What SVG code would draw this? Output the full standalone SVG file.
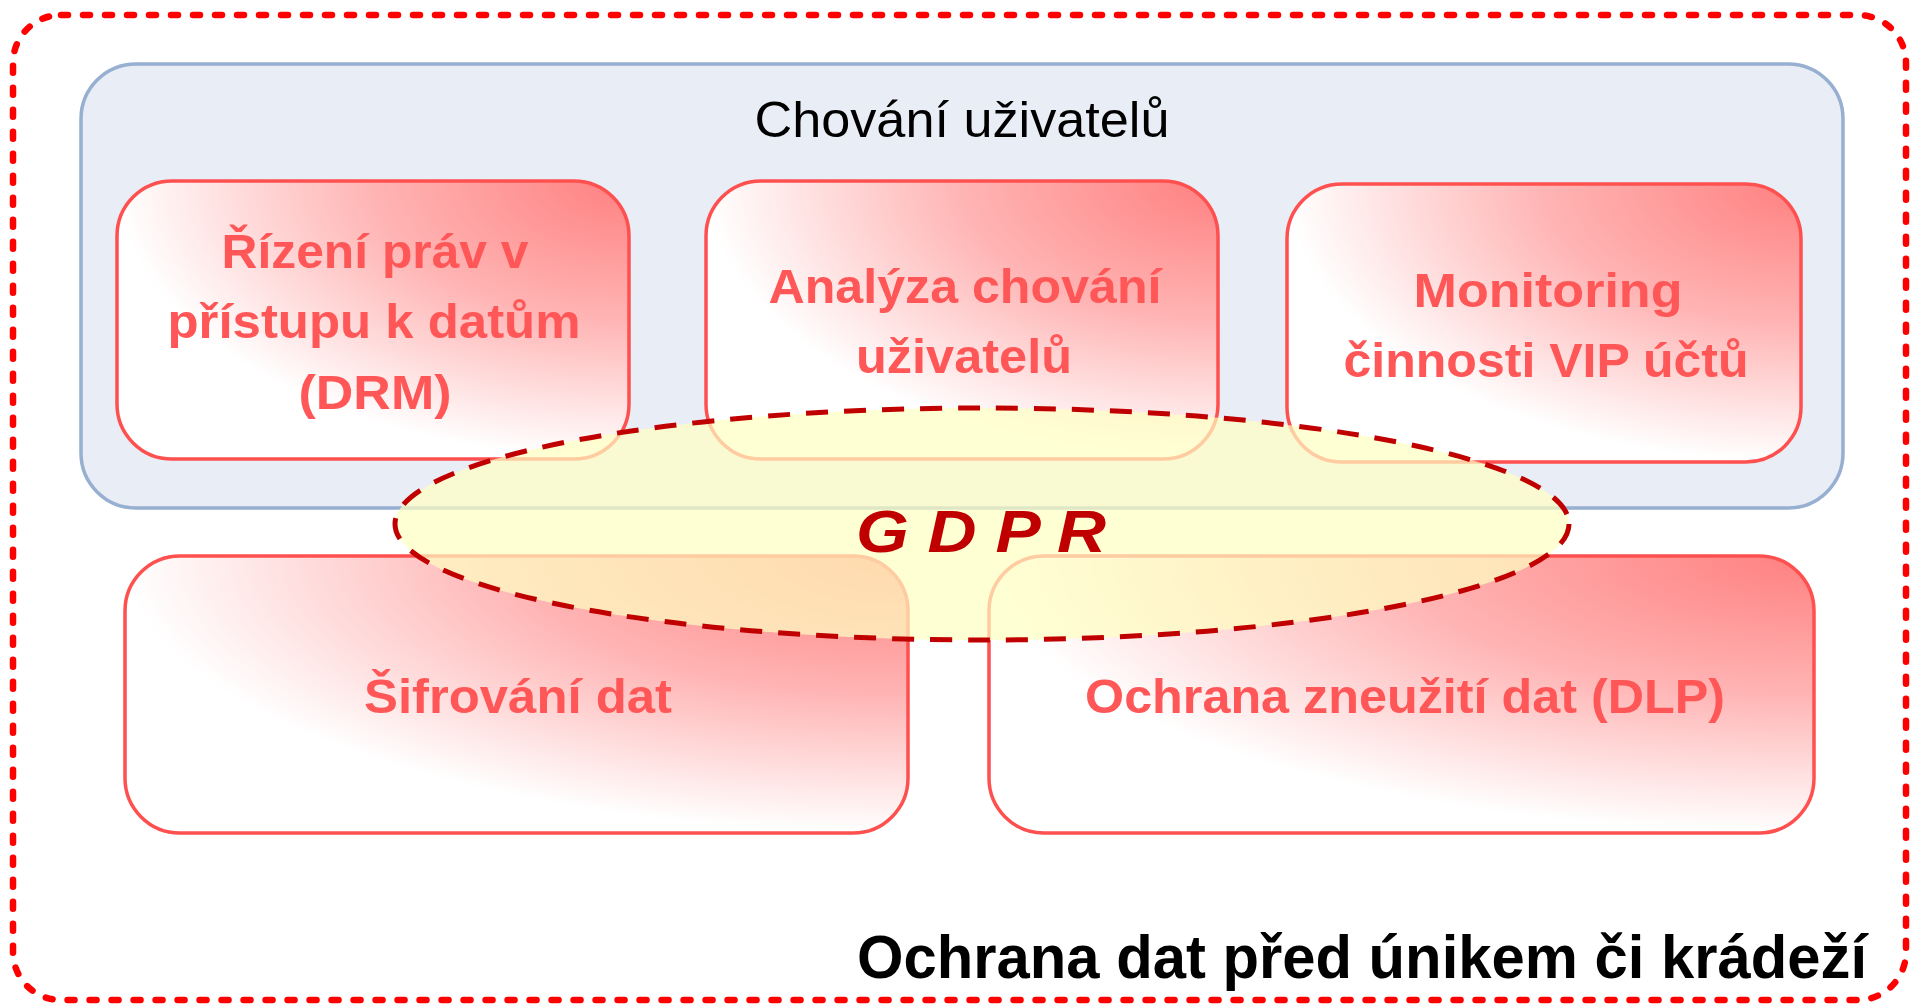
<svg xmlns="http://www.w3.org/2000/svg" width="1916" height="1004" viewBox="0 0 1916 1004">
<defs>
<radialGradient id="redfill" cx="1" cy="0" r="1" fx="1" fy="0">
<stop offset="0" stop-color="#FF8080"/>
<stop offset="0.5" stop-color="#FFB4B4"/>
<stop offset="1" stop-color="#FFFFFF"/>
</radialGradient>
<style>
.box{fill:url(#redfill);stroke:#FF5050;stroke-width:3.5}
.bt{font-family:"Liberation Sans",Arial,sans-serif;font-weight:bold;font-size:49px;fill:#FF5757;text-anchor:middle}
</style>
</defs>
<rect x="13" y="15" width="1893" height="985" rx="48" ry="48" fill="#FFFFFF" stroke="#FF0000" stroke-width="6.5" stroke-dasharray="7 15" stroke-linecap="round"/>
<g id="container">
<rect x="81" y="64" width="1762" height="444" rx="55" ry="55" fill="#E9EDF5" stroke="#97AFD0" stroke-width="3.5"/>
<text x="962" y="137" font-family="Liberation Sans,Arial,sans-serif" font-size="50" fill="#000" text-anchor="middle" textLength="415" lengthAdjust="spacingAndGlyphs">Chování uživatelů</text>
</g>
<g id="drm">
<rect class="box" x="117" y="181" width="512" height="278" rx="55" ry="55"/>
<text class="bt" x="375" y="268" textLength="307" lengthAdjust="spacingAndGlyphs">Řízení práv v</text>
<text class="bt" x="374" y="338" textLength="413" lengthAdjust="spacingAndGlyphs">přístupu k datům</text>
<text class="bt" x="375" y="409" textLength="153" lengthAdjust="spacingAndGlyphs">(DRM)</text>
</g>
<g id="analyza">
<rect class="box" x="706" y="181" width="512" height="278" rx="55" ry="55"/>
<text class="bt" x="965" y="303" textLength="393" lengthAdjust="spacingAndGlyphs">Analýza chování</text>
<text class="bt" x="964" y="373" textLength="216" lengthAdjust="spacingAndGlyphs">uživatelů</text>
</g>
<g id="monitoring">
<rect class="box" x="1287" y="184" width="514" height="278" rx="55" ry="55"/>
<text class="bt" x="1548" y="307" textLength="269" lengthAdjust="spacingAndGlyphs">Monitoring</text>
<text class="bt" x="1546" y="377" textLength="405" lengthAdjust="spacingAndGlyphs">činnosti VIP účtů</text>
</g>
<g id="sifrovani">
<rect class="box" x="125" y="556" width="783" height="277" rx="55" ry="55"/>
<text class="bt" x="518" y="713" textLength="308" lengthAdjust="spacingAndGlyphs">Šifrování dat</text>
</g>
<g id="dlp">
<rect class="box" x="989" y="556" width="825" height="277" rx="55" ry="55"/>
<text class="bt" x="1405" y="713" textLength="640" lengthAdjust="spacingAndGlyphs">Ochrana zneužití dat (DLP)</text>
</g>
<g id="gdpr">
<ellipse cx="982" cy="524" rx="587" ry="116" fill="#FFFFC2" fill-opacity="0.7" stroke="#C00000" stroke-width="5" stroke-dasharray="22 16"/>
<text x="981" y="552" font-family="Liberation Sans,Arial,sans-serif" font-weight="bold" font-style="italic" font-size="60" fill="#C00000" text-anchor="middle" textLength="250" lengthAdjust="spacingAndGlyphs">G D P R</text>
</g>
<g id="title">
<text x="1867" y="978" font-family="Liberation Sans,Arial,sans-serif" font-weight="bold" font-size="62" fill="#000" text-anchor="end" textLength="1010" lengthAdjust="spacingAndGlyphs">Ochrana dat před únikem či krádeží</text>
</g>
<g id="connectors"></g>
</svg>
